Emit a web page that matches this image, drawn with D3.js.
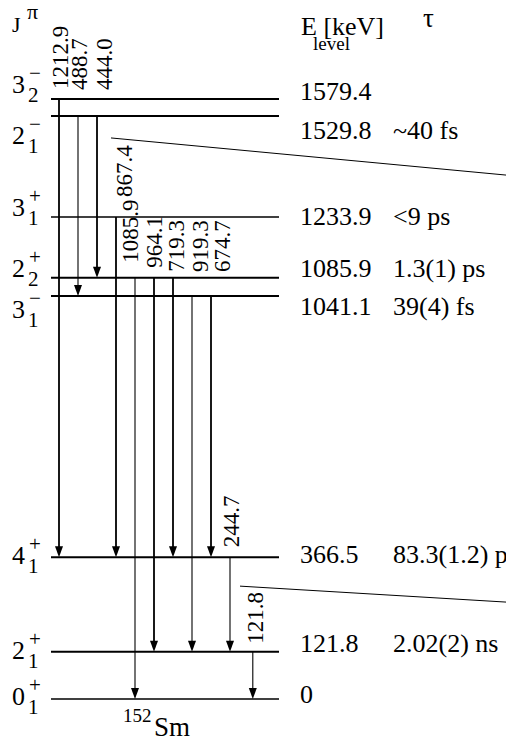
<!DOCTYPE html>
<html>
<head>
<meta charset="utf-8">
<script src="https://d3js.org/d3.v7.min.js"></script>
<style>
  body { margin: 0; background: #fff; }
</style>
</head>
<body>
<div id="chart"></div>
<script>
// levels of 152Sm
var levelEnergies = [1579.4, 1529.8, 1233.9, 1085.9, 1041.1, 366.5, 121.8, 0];
var levelLabels = ["1579.4", "1529.8", "1233.9", "1085.9", "1041.1", "366.5", "121.8", "0"];
var levelSpins = ["3", "2", "3", "2", "3", "4", "2", "0"];
var levelIndex = ["2", "1", "1", "2", "1", "1", "1", "1"];
var levelParity = ["\u2212", "\u2212", "+", "+", "\u2212", "+", "+", "+"];
var levelLifetimes = ["", "~40 fs", "<9 ps", "1.3(1) ps", "39(4) fs", "83.3(1.2) ps", "2.02(2) ns", ""];

// gamma transitions
var gammaLabels = ["1212.9", "488.7", "444.0", "867.4", "1085.9", "964.1", "719.3", "919.3", "674.7", "244.7", "121.8"];
var gammaFrom = [1579.4, 1529.8, 1529.8, 1233.9, 1085.9, 1085.9, 1085.9, 1041.1, 1041.1, 366.5, 121.8];
var gammaTo = [366.5, 1041.1, 1085.9, 366.5, 0, 121.8, 366.5, 121.8, 366.5, 121.8, 0];
var gammaSlot = [0, 1, 2, 3, 4, 5, 6, 7, 8, 9, 10.2];
var weakGammas = ["488.7", "1085.9", "919.3", "244.7", "121.8"];

var width = 506, height = 737;
var serif = "Liberation Serif";

// level scheme is not drawn to a strict linear energy scale
var y = d3.scaleLinear().domain([0, 1041.1, 1233.9, 1579.4]).range([699, 296, 217, 99]);
var x = d3.scaleLinear().domain([0, 9]).range([59, 230]);

var levelX0 = 51, levelX1 = 279;
var energyColX = 300, tauColX = 393;

// hand placed nudges so labels don't collide
var levelTextDy = [1, 23, 8, -1, 19, 6, 0, 4];
var spinTextDy = [-6, 28, -1, -1, 22, 7, 7, 6];
var gammaTextDx = [1, 1, 7, 8, -5, 0, 3, 8, 11, 1, 2];
var gammaTextDy = [-10, -26, -26, -20, -15, -10, -6, -24, -24, -10, -8];

var svg = d3.select("#chart").append("svg")
  .attr("width", width)
  .attr("height", height)
  .attr("font-family", serif);

var levels = levelEnergies.map(function(e, i) {
  return {e: e, label: levelLabels[i], j: levelSpins[i], k: levelIndex[i], p: levelParity[i], tau: levelLifetimes[i], i: i};
});

var gammas = gammaLabels.map(function(g, i) {
  return {label: g, from: gammaFrom[i], to: gammaTo[i], slot: gammaSlot[i], i: i};
});

// level lines
svg.append("g").selectAll("line")
  .data(levels)
  .enter().append("line")
  .attr("x1", levelX0)
  .attr("x2", levelX1)
  .attr("y1", function(d) { return y(d.e); })
  .attr("y2", function(d) { return y(d.e); })
  .attr("stroke", "#000")
  .attr("stroke-width", function(d) { return (d.e == 1233.9 || d.e == 0) ? 1.3 : 2; });

// transitions
var g = svg.append("g").selectAll("g")
  .data(gammas)
  .enter().append("g");

g.append("line")
  .attr("x1", function(d) { return x(d.slot); })
  .attr("x2", function(d) { return x(d.slot); })
  .attr("y1", function(d) { return y(d.from); })
  .attr("y2", function(d) { return y(d.to) - 6; })
  .attr("stroke", "#000")
  .attr("stroke-width", function(d) { return weakGammas.includes(d.label) ? 1.1 : 1.8; });

g.append("path")
  .attr("d", function(d) {
    var xx = x(d.slot), yy = y(d.to);
    return "M" + xx + "," + yy + "L" + (xx - 4) + "," + (yy - 11) + "L" + (xx + 4) + "," + (yy - 11) + "Z";
  })
  .attr("fill", "#000");

g.append("text")
  .attr("transform", function(d) {
    return "translate(" + (x(d.slot) + gammaTextDx[d.i]) + "," + (y(d.from) + gammaTextDy[d.i]) + ") rotate(-90)";
  })
  .attr("dy", "0.34em")
  .style("font-size", "23px")
  .text(function(d) { return d.label; });

// level energies and lifetimes
svg.append("g").selectAll("text")
  .data(levels)
  .enter().append("text")
  .attr("x", energyColX)
  .attr("y", function(d) { return y(d.e) + levelTextDy[d.i]; })
  .style("font-size", "26px")
  .text(function(d) { return d.label; });

svg.append("g").selectAll("text")
  .data(levels.filter(function(d) { return d.tau != ""; }))
  .enter().append("text")
  .attr("x", tauColX)
  .attr("y", function(d) { return y(d.e) + levelTextDy[d.i]; })
  .style("font-size", "26px")
  .text(function(d) { return d.tau; });

// spin-parity labels
var spin = svg.append("g").selectAll("g")
  .data(levels)
  .enter().append("g")
  .attr("transform", function(d) { return "translate(12," + (y(d.e) + spinTextDy[d.i]) + ")"; });

spin.append("text")
  .style("font-size", "26px")
  .text(function(d) { return d.j; });

spin.append("text")
  .attr("x", 17)
  .attr("y", -13)
  .style("font-size", "21px")
  .text(function(d) { return d.p; });

spin.append("text")
  .attr("x", 16)
  .attr("y", 9)
  .style("font-size", "21px")
  .text(function(d) { return d.k; });

// header
svg.append("text").attr("x", 12).attr("y", 32).style("font-size", "22px").text("J");
svg.append("text").attr("x", 27).attr("y", 19).style("font-size", "22px").text("\u03c0");
svg.append("text").attr("x", energyColX + 1).attr("y", 35).style("font-size", "26px").text("E [keV]");
svg.append("text").attr("x", energyColX + 13).attr("y", 50).style("font-size", "19px").text("level");
svg.append("text").attr("x", 423).attr("y", 27).style("font-size", "27px").text("\u03c4");

// nucleus
svg.append("text").attr("x", x(4) - 12).attr("y", 722).style("font-size", "19px").text("152");
svg.append("text").attr("x", x(4) + 19).attr("y", 736).style("font-size", "27px").text("Sm");

// guide lines towards the (cropped) detail panels
var guides = [
  {x0: x(3) - 5, y0: y(1529.8) + 22, slope: 0.094},
  {x0: x(9) + 10, y0: y(366.5) + 29, slope: 0.06}
];
svg.append("g").selectAll("line")
  .data(guides)
  .enter().append("line")
  .attr("x1", function(d) { return d.x0; })
  .attr("y1", function(d) { return d.y0; })
  .attr("x2", width)
  .attr("y2", function(d) { return d.y0 + (width - d.x0) * d.slope; })
  .attr("stroke", "#000")
  .attr("stroke-width", 1);
</script>
</body>
</html>
